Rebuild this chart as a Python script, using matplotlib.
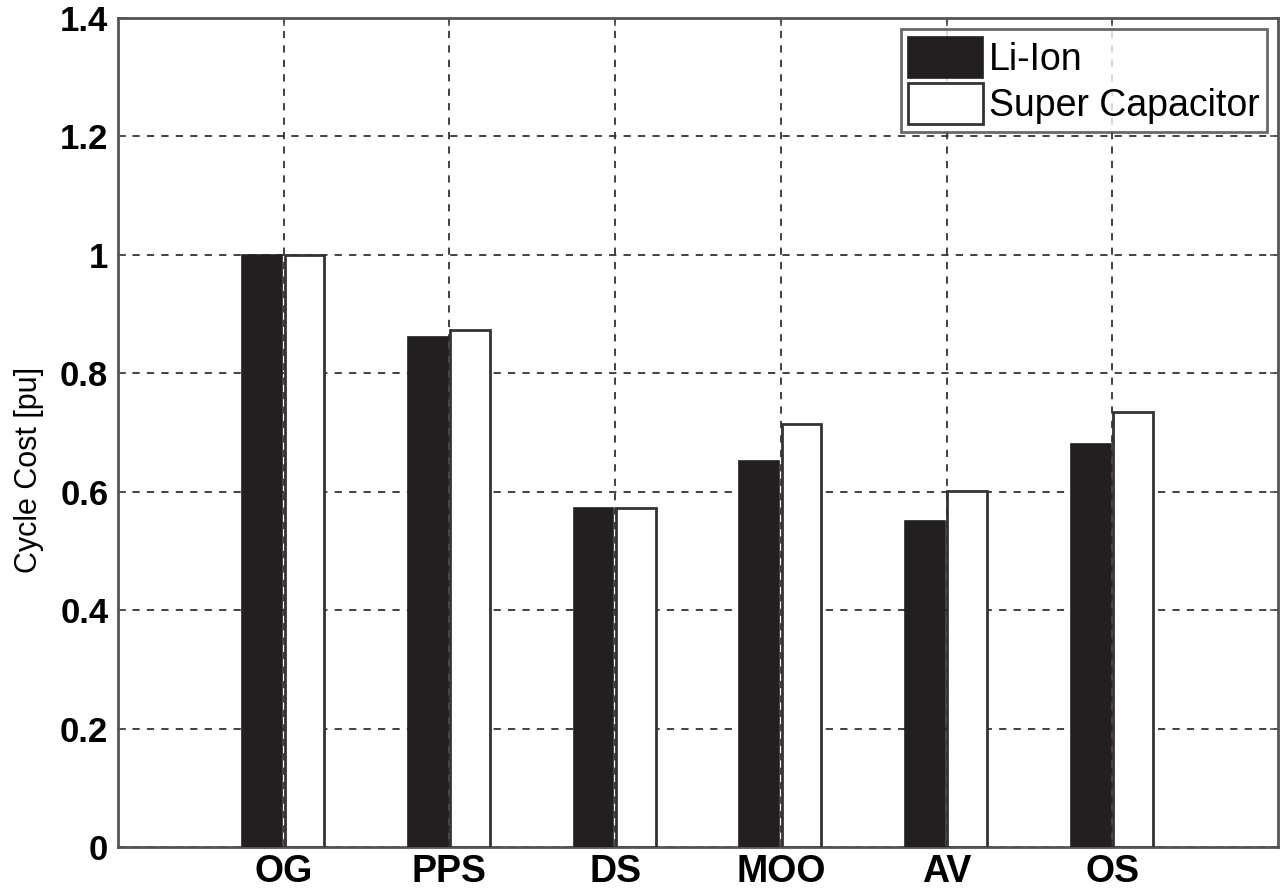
import matplotlib
matplotlib.use("Agg")
import matplotlib.pyplot as plt
import numpy as np

categories = ["OG", "PPS", "DS", "MOO", "AV", "OS"]
li_ion = [1.0, 0.862, 0.572, 0.652, 0.551, 0.680]
super_cap = [1.0, 0.873, 0.572, 0.715, 0.602, 0.734]
series_names = ["Li-Ion", "Super Capacitor"]
y_ticks = [0, 0.2, 0.4, 0.6, 0.8, 1, 1.2, 1.4]
y_tick_labels = ["0", "0.2", "0.4", "0.6", "0.8", "1", "1.2", "1.4"]

plt.rcParams["font.family"] = ["Liberation Sans", "DejaVu Sans"]

fig = plt.figure(figsize=(12.81, 8.92), dpi=100)
ax = fig.add_axes([0.0921, 0.0504, 0.9056, 0.9294])

x = np.arange(1, len(categories) + 1)
width = 0.24
edge = "#333333"
ax.bar(x - 0.13, li_ion, width, color="#231f20", edgecolor="#231f20",
       linewidth=1.2, label=series_names[0], zorder=3)
ax.bar(x + 0.125, super_cap, width, color="white", edgecolor=edge,
       linewidth=2.0, label=series_names[1], zorder=3)

ax.set_xlim(0, 7)
ax.set_ylim(0, 1.4)
ax.set_xticks(x)
ax.set_xticklabels(categories, fontsize=27, fontweight="bold")
ax.set_yticks(y_ticks)
ax.set_yticklabels(y_tick_labels, fontsize=25, fontweight="bold")
ax.set_ylabel("Cycle Cost [pu]", fontsize=22)
ax.yaxis.set_label_coords(-0.064, 0.455)

ax.grid(True, linestyle=(0, (4, 4)), color="#333333", linewidth=1.3, zorder=1)
ax.set_axisbelow(True)
ax.tick_params(direction="in", length=6, width=1.2, color="#555555",
               top=True, right=True)
ax.tick_params(axis="y", pad=7)
ax.tick_params(axis="x", pad=5)
for s in ax.spines.values():
    s.set_color("#555555")
    s.set_linewidth(2.0)

leg = ax.legend(loc="upper right", fontsize=27, frameon=True, fancybox=False,
                edgecolor="#444444", borderpad=0.2, handlelength=2.0,
                handleheight=1.3, handletextpad=0.15, labelspacing=0.15,
                borderaxespad=0.3)
leg.get_frame().set_linewidth(2.0)

fig.savefig("out.png", dpi=100)
